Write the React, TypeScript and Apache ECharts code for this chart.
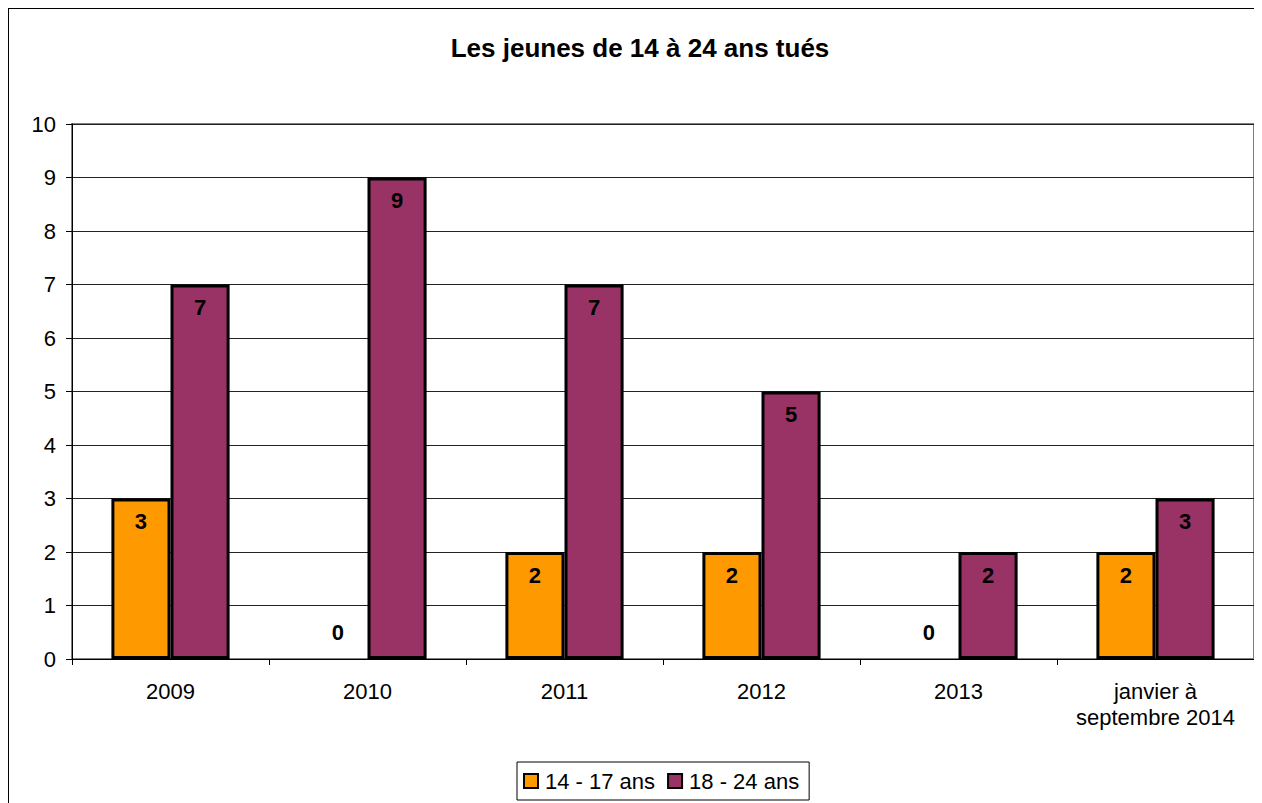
import React, { useEffect, useRef } from "react";
import * as echarts from "echarts";

const categories = ["2009", "2010", "2011", "2012", "2013", "janvier à\nseptembre 2014"];
const seriesNames = ["14 - 17 ans", "18 - 24 ans"];
const values1417 = [3, 0, 2, 2, 0, 2];
const values1824 = [7, 9, 7, 5, 2, 3];
const yTicks = { min: 0, max: 10, interval: 1 };
const titleText = "Les jeunes de 14 à 24 ans tués";

const FONT = 'Arial, "Liberation Sans", sans-serif';

function toData(vals: number[]) {
  return vals.map((v) =>
    v === 0
      ? { value: v, label: { position: "top", distance: 16 }, itemStyle: { borderWidth: 0 } }
      : v
  );
}

export default function App() {
  const ref = useRef<HTMLDivElement>(null);
  useEffect(() => {
    if (!ref.current) return;
    const chart = echarts.init(ref.current, undefined, { renderer: "svg" });
    const labelCommon = {
      show: true,
      position: "insideTop",
      distance: 12,
      color: "#000",
      fontWeight: "bold",
      fontSize: 22,
      fontFamily: FONT,
    };
    chart.setOption({
      animation: false,
      backgroundColor: "#fff",
      textStyle: { fontFamily: FONT },
      graphic: [
        { type: "line", shape: { x1: 0, y1: 0.5, x2: 1254, y2: 0.5 }, style: { stroke: "#000", lineWidth: 1 } },
        { type: "line", shape: { x1: 0.5, y1: 0, x2: 0.5, y2: 795 }, style: { stroke: "#000", lineWidth: 1 } },
        {
          type: "text",
          x: 632,
          y: 40,
          style: {
            text: titleText,
            fontSize: 26,
            fontWeight: "bold",
            fontFamily: FONT,
            fill: "#000",
            textAlign: "center",
            textVerticalAlign: "middle",
          },
        },
      ],
      grid: {
        left: 64,
        top: 116,
        right: 8,
        bottom: 144,
        show: true,
        borderColor: "#808080",
        borderWidth: 2,
        backgroundColor: "transparent",
      },
      legend: {
        left: 509,
        top: 754,
        padding: [8, 10, 8, 6],
        borderColor: "#000",
        borderWidth: 1,
        itemWidth: 14,
        itemHeight: 14,
        itemGap: 12,
        icon: "rect",
        textStyle: { fontSize: 22, fontFamily: FONT, color: "#000", padding: [0, 0, 0, 2] },
        data: seriesNames,
      },
      xAxis: {
        type: "category",
        data: categories,
        axisLine: { show: true, lineStyle: { color: "#000", width: 1 } },
        axisTick: { show: true, alignWithLabel: false, length: 6, lineStyle: { color: "#000" } },
        axisLabel: {
          fontSize: 22,
          fontFamily: FONT,
          color: "#000",
          margin: 19,
          lineHeight: 26,
          interval: 0,
        },
        splitLine: { show: false },
      },
      yAxis: {
        type: "value",
        min: yTicks.min,
        max: yTicks.max,
        interval: yTicks.interval,
        axisLine: { show: true, lineStyle: { color: "#000", width: 1 } },
        axisTick: { show: true, length: 6, lineStyle: { color: "#000" } },
        axisLabel: { fontSize: 22, fontFamily: FONT, color: "#000", margin: 16 },
        splitLine: { show: true, lineStyle: { color: "#222", width: 1 } },
      },
      series: [
        {
          name: seriesNames[0],
          type: "bar",
          data: toData(values1417),
          barGap: "0%",
          barCategoryGap: "40%",
          itemStyle: { color: "#FF9900", borderColor: "#000", borderWidth: 3 },
          label: labelCommon,
        },
        {
          name: seriesNames[1],
          type: "bar",
          data: toData(values1824),
          barGap: "0%",
          barCategoryGap: "40%",
          itemStyle: { color: "#993366", borderColor: "#000", borderWidth: 3 },
          label: labelCommon,
        },
      ],
    });
    return () => chart.dispose();
  }, []);
  return <div ref={ref} style={{ width: 1254, height: 795 }} />;
}
